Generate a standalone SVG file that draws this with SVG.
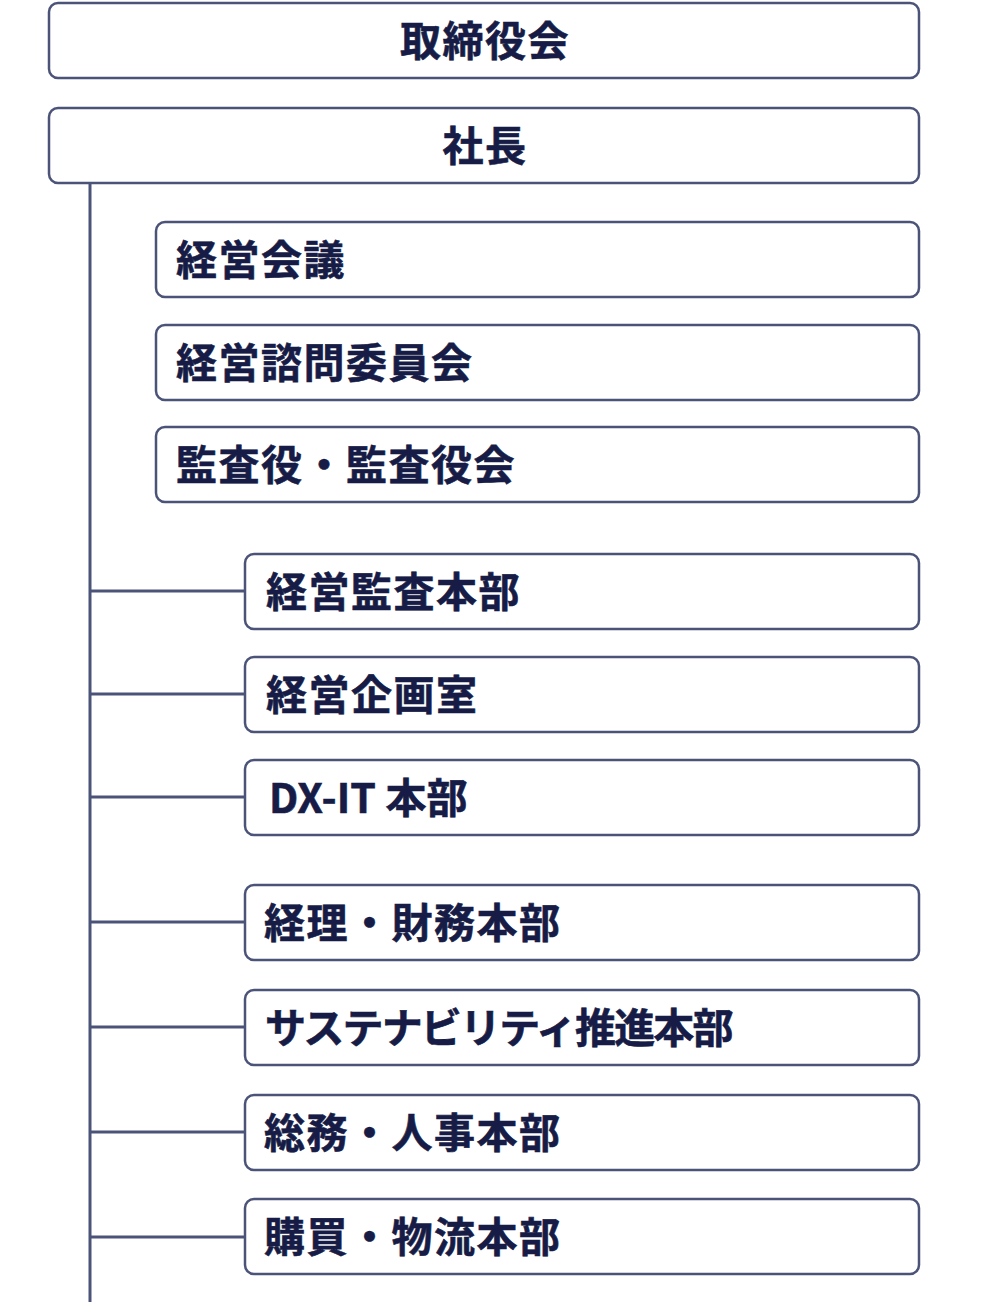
<svg xmlns="http://www.w3.org/2000/svg" width="991" height="1302" viewBox="0 0 991 1302">
<style>
.box{fill:#ffffff;stroke:#4b5478;stroke-width:2.5}
.ln{stroke:#4b5478;stroke-width:3;fill:none}
.t{font-family:"Noto Sans CJK JP","Noto Sans",sans-serif;font-weight:700;font-size:41px;fill:#161c46;dominant-baseline:central;letter-spacing:1.5px;stroke:#161c46;stroke-width:0.6px}
.c{text-anchor:middle}
</style>
<rect width="991" height="1302" fill="#ffffff"/>
<g id="connectors">
<line class="ln" x1="90" y1="183" x2="90" y2="1302"/>
<line class="ln" x1="90" y1="591" x2="245" y2="591"/>
<line class="ln" x1="90" y1="694" x2="245" y2="694"/>
<line class="ln" x1="90" y1="797" x2="245" y2="797"/>
<line class="ln" x1="90" y1="922" x2="245" y2="922"/>
<line class="ln" x1="90" y1="1027" x2="245" y2="1027"/>
<line class="ln" x1="90" y1="1132" x2="245" y2="1132"/>
<line class="ln" x1="90" y1="1237" x2="245" y2="1237"/>
</g>
<g id="n1"><rect class="box" x="49" y="3" width="870" height="75" rx="9"/><text class="t c" x="485" y="38">取締役会</text></g>
<g id="n2"><rect class="box" x="49" y="108" width="870" height="75" rx="9"/><text class="t c" x="485" y="143">社長</text></g>
<g id="n3"><rect class="box" x="156" y="222" width="763" height="75" rx="9"/><text class="t" x="176" y="257">経営会議</text></g>
<g id="n4"><rect class="box" x="156" y="325" width="763" height="75" rx="9"/><text class="t" x="176" y="360">経営諮問委員会</text></g>
<g id="n5"><rect class="box" x="156" y="427" width="763" height="75" rx="9"/><text class="t" x="176" y="462">監査役・監査役会</text></g>
<g id="n6"><rect class="box" x="245" y="554" width="674" height="75" rx="9"/><text class="t" x="266" y="589">経営監査本部</text></g>
<g id="n7"><rect class="box" x="245" y="657" width="674" height="75" rx="9"/><text class="t" x="266" y="692">経営企画室</text></g>
<g id="n8"><rect class="box" x="245" y="760" width="674" height="75" rx="9"/><text class="t" x="269" y="795" textLength="200" lengthAdjust="spacing">DX-IT 本部</text></g>
<g id="n9"><rect class="box" x="245" y="885" width="674" height="75" rx="9"/><text class="t" x="264" y="920">経理・財務本部</text></g>
<g id="n10"><rect class="box" x="245" y="990" width="674" height="75" rx="9"/><text class="t" x="265" y="1025" textLength="470" lengthAdjust="spacing">サステナビリティ推進本部</text></g>
<g id="n11"><rect class="box" x="245" y="1095" width="674" height="75" rx="9"/><text class="t" x="264" y="1130">総務・人事本部</text></g>
<g id="n12"><rect class="box" x="245" y="1199" width="674" height="75" rx="9"/><text class="t" x="264" y="1234">購買・物流本部</text></g>
</svg>
